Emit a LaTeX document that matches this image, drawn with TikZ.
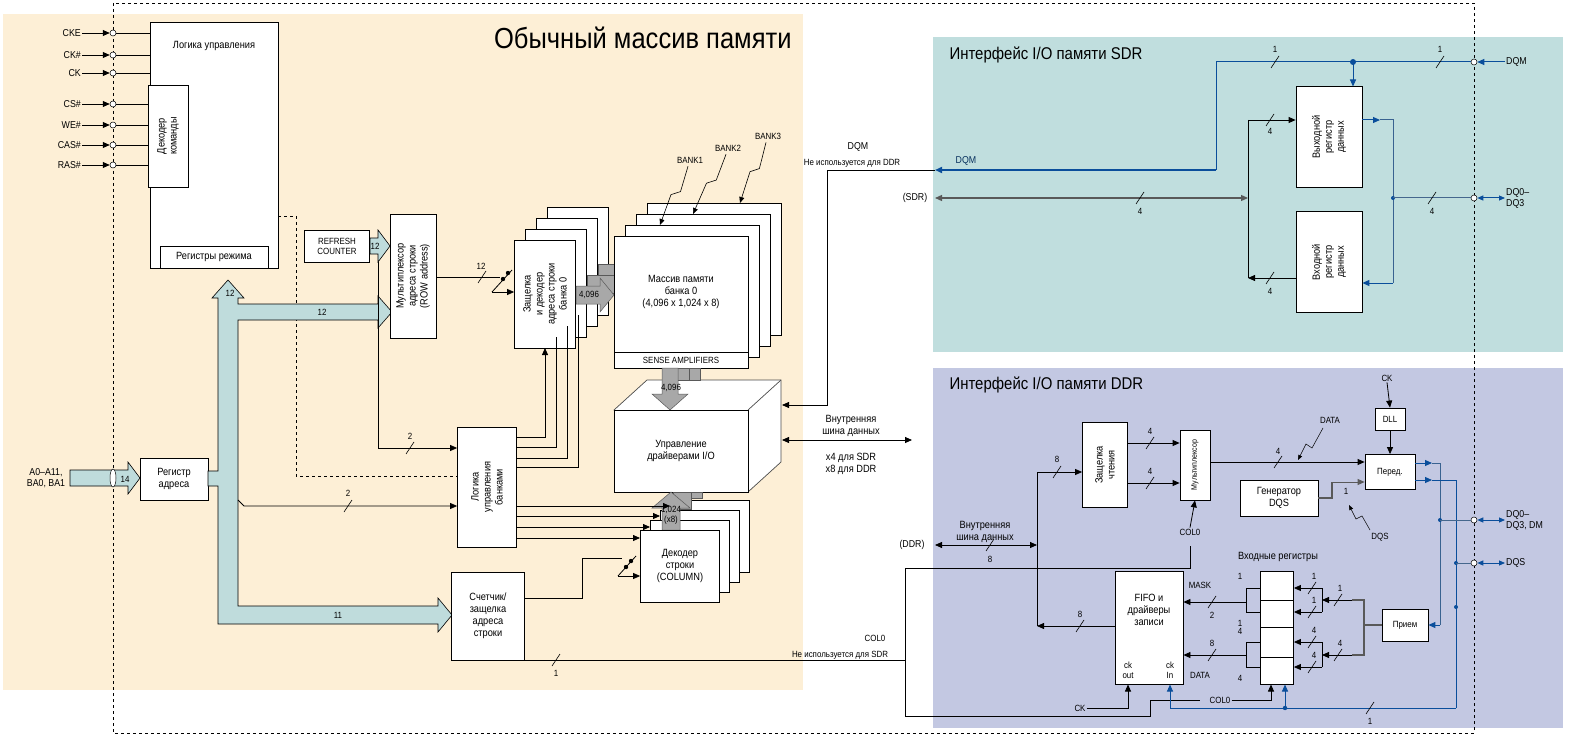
\documentclass[tikz,border=0pt]{standalone}
\usepackage{fontspec}
\setmainfont{Liberation Sans}[FakeStretch=0.88]
\usetikzlibrary{arrows.meta,calc}
\definecolor{tan}{HTML}{FDEFD6}
\definecolor{sdrbg}{HTML}{C0DEDE}
\definecolor{ddrbg}{HTML}{C3C8E2}
\definecolor{busc}{HTML}{BFDCDC}
\definecolor{dblue}{HTML}{0A4E9B}
\definecolor{gbus}{HTML}{A8A8A8}
\tikzset{
 box/.style={draw,fill=white,line width=0.8pt,inner sep=0pt},
 lbl/.style={font=\fontsize{10.5}{12}\selectfont,align=center,inner sep=1pt},
 sl/.style={font=\fontsize{9}{10}\selectfont,inner sep=1pt},
 ln/.style={line width=0.8pt},
 ar/.style={ln,-{Triangle[length=7pt,width=6pt]}},
 bl/.style={line width=1pt,draw=dblue},
 bar/.style={bl,-{Triangle[length=7pt,width=6pt]}},
 pin/.style={draw,fill=white,circle,inner sep=0pt,minimum size=6pt,line width=0.5pt},
 fat/.style={draw,fill=busc,line width=0.6pt},
 gfat/.style={draw=gray!70!black,fill=gbus,line width=0.5pt},
}
\newcommand\slm[1]{\draw[line width=0.6pt] ($#1+(-4,6)$)--($#1+(4,-6)$);}
\begin{document}
\begin{tikzpicture}[x=1pt,y=-1pt]
\useasboundingbox (0,0) rectangle (1590,746);
% backgrounds
\fill[tan] (3,14) rectangle (803,690);
\fill[sdrbg] (933,37) rectangle (1563,352);
\fill[ddrbg] (933,368) rectangle (1563,728);
\draw[dashed,line width=0.7pt] (113,3) rectangle (1474,733);
\node[font=\fontsize{29}{30}\selectfont,anchor=east] at (795,38) {Обычный массив памяти};
\node[font=\fontsize{17}{18}\selectfont,anchor=west] at (946,55) {Интерфейс I/O памяти SDR};
\node[font=\fontsize{17}{18}\selectfont,anchor=west] at (946,385) {Интерфейс I/O памяти DDR};

% control logic
\node[box,minimum width=128pt,minimum height=246pt] (ctl) at (214,145) {};
\node[lbl] at (214,46) {Логика управления};
\node[box,minimum width=40pt,minimum height=102pt] (cmd) at (168,136) {};
\node[lbl,rotate=90] at (168,136) {Декодер\\команды};
\node[box,minimum width=108pt,minimum height=22pt] (mode) at (214,257) {};
\node[lbl] at (214,257) {Регистры режима};
\foreach \n/\y/\e in {CKE/33/150,CK\#/55/150,CK/73/150,CS\#/104/148,WE\#/125/148,CAS\#/145/148,RAS\#/165/148}{
  \node[sl,anchor=east,font=\fontsize{10}{11}\selectfont] (s\y) at (82,\y) {\n};
  \node[pin] (p\y) at (113,\y) {};
  \draw[ar] (s\y.east) -- (p\y.west);
  \draw[ln] (p\y.east) -- (\e,\y);
}
% dashed from control
\draw[dashed,ln] (278,216) -- (296,216) -- (296,476) -- (458,476);

% address input
\node[lbl,font=\fontsize{10}{11}\selectfont] (ain) at (46,478) {A0–A11,\\BA0, BA1};
\draw[fat] (70,470) -- (128,470) -- (128,462) -- (140,478) -- (128,494) -- (128,486) -- (70,486) -- cycle;
\draw[fill=white,line width=0.5pt] (113,478) ellipse (3pt and 9pt);
\node[sl] at (125,479) {14};
\node[box,minimum width=68pt,minimum height=42pt] (areg) at (174,479) {};
\node[lbl] at (174,479) {Регистр\\адреса};
% main bus
\draw[fat] (208,471) -- (218,471) -- (218,298) -- (212,298) -- (228,280) -- (244,298) -- (238,298)
 -- (238,304) -- (378,304) -- (378,296) -- (392,312) -- (378,328) -- (378,320) -- (238,320)
 -- (238,606) -- (438,606) -- (438,598) -- (452,615) -- (438,632) -- (438,624) -- (218,624)
 -- (218,486) -- (208,486) -- cycle;
\node[sl] at (230,293) {12};
\node[sl] at (322,312) {12};
\node[sl] at (338,615) {11};

% refresh counter
\node[box,minimum width=65pt,minimum height=32pt] (ref) at (337,246) {};
\node[lbl,font=\fontsize{9}{10}\selectfont] at (337,246) {REFRESH\\COUNTER};
\draw[fat] (370,238) -- (378,238) -- (378,230) -- (390,246) -- (378,262) -- (378,254) -- (370,254) -- cycle;
\node[sl] at (375,246) {12};
% mux
\node[box,minimum width=46pt,minimum height=124pt] (mux) at (413,276) {};
\node[lbl,rotate=90] at (413,276) {Мультиплексор\\адреса строки\\(ROW address)};

% row latch stack
\foreach \i in {3,2,1}{\node[box,minimum width=61pt,minimum height=108pt] at (545+11*\i,294-11*\i) {};}
\node[box,minimum width=61pt,minimum height=108pt] (rl) at (545,294) {};
\node[lbl,rotate=90] at (545,294) {Защелка\\и декодер\\адреса строки\\банка 0};
% mux->latch switch
\draw[ln] (mux.east|-0,277) -- (500,277);
\node[sl] at (481,266) {12}; \slm{(482,277)}
\draw[ln] (492,292) -- (512,270);
\fill (503,279) circle (2.2pt); \fill (508,273) circle (2.2pt);
\draw[ar] (492,292) -- (rl.west|-0,292);

% gray arrows latch -> array
\foreach \d in {22,11}{\draw[gfat] (576+\d,286-\d) -- (603+\d,286-\d) -- (603+\d,304-\d) -- (576+\d,304-\d) -- cycle;}
\draw[gfat] (576,286) -- (600,286) -- (600,278) -- (614,295) -- (600,312) -- (600,304) -- (576,304) -- cycle;
\node[sl] at (589,295) {4,096};

% array stack
\foreach \i in {3,2,1}{\node[box,minimum width=134pt,minimum height=132pt] at (681+11*\i,302-11*\i) {};}
\node[box,minimum width=134pt,minimum height=132pt] (arr) at (681,302) {};
\draw[line width=0.8pt] (614,352) -- (748,352);
\node[lbl] at (681,292) {Массив памяти\\банка 0\\(4,096 x 1,024 x 8)};
\node[lbl,font=\fontsize{9}{10}\selectfont] at (681,360) {SENSE AMPLIFIERS};
% banks
\foreach \n/\lx/\ly/\tx/\ty in {BANK1/690/160/660/225,BANK2/728/148/693/214,BANK3/768/136/740/203}{
 \node[sl] (\n) at (\lx,\ly) {\n};
 \draw[ln,line width=0.6pt,-{Triangle[length=6pt,width=5pt]}] ($(\n.south)+(-2,2)$) -- ($(\n.south)!0.45!(\tx,\ty)+(4,0)$) -- ($(\n.south)!0.5!(\tx,\ty)+(-4,0)$) -- (\tx,\ty);
}

% I/O cube
\draw[line width=0.7pt,draw=gray!60!black,fill=white] (614,410) -- (647,380) -- (781,380) -- (781,462) -- (748,492) -- cycle;
\draw[line width=0.7pt,draw=gray!60!black] (748,410) -- (781,380);
\foreach \d in {22,11}{\draw[gfat] (662+\d,368) -- (678+\d,368) -- (678+\d,380) -- (662+\d,380) -- cycle;}
\draw[gfat] (662,368) -- (678,368) -- (678,394) -- (688,394) -- (670,410) -- (652,394) -- (662,394) -- cycle;
\node[sl] at (671,388) {4,096};
\node[box,minimum width=134pt,minimum height=82pt] (io) at (681,451) {};
\node[lbl] at (681,451) {Управление\\драйверами I/O};
% internal bus
\node[lbl] (ib) at (851,426) {Внутренняя\\шина данных};
\node[lbl] at (851,464) {x4 для SDR\\x8 для DDR};
\draw[ln,{Triangle[length=7pt,width=6pt]}-{Triangle[length=7pt,width=6pt]}] (782,440) -- (912,440);

% column decoder stack
\foreach \i in {3,2,1}{\node[box,minimum width=79pt,minimum height=72pt] at (680+10*\i,566-10*\i) {};}
\foreach \d in {22,11}{\draw[gfat] (662+\d,492) -- (680+\d,492) -- (680+\d,520-\d) -- (662+\d,520-\d) -- cycle;}
\draw[gfat] (662,530) -- (662,508) -- (652,508) -- (671,492) -- (690,508) -- (680,508) -- (680,530) -- cycle;
\node[box,minimum width=79pt,minimum height=72pt] (cd) at (680,566) {};
\node[sl,align=center] at (671,515) {1,024\\(x8)};
\node[lbl] at (680,566) {Декодер\\строки\\(COLUMN)};

% bank control logic
\node[box,minimum width=59pt,minimum height=120pt] (bcl) at (487,487) {};
\node[lbl,rotate=90] at (487,487) {Логика\\управления\\банками};
\draw[ar] (bcl.east|-0,437) -- (545,437) -- (545,348);
\draw[ln] (bcl.east|-0,447) -- (556,447) -- (556,337);
\draw[ln] (bcl.east|-0,458) -- (567,458) -- (567,326);
\draw[ln] (bcl.east|-0,467) -- (578,467) -- (578,315);
\foreach \y/\x in {506/670,516/660,527/650,538/640}{\draw[ar] (bcl.east|-0,\y) -- (\x,\y);}
% refresh -> bcl
\draw[ar] (378,262) -- (378,448) -- (bcl.west|-0,448);
\node[sl] at (410,436) {2}; \slm{(410,448)}
\draw[ar] (238,500) -- (244,506) -- (bcl.west|-0,506);
\node[sl] at (348,493) {2}; \slm{(348,506)}

% counter
\node[box,minimum width=73pt,minimum height=88pt] (cnt) at (488,616) {};
\node[lbl] at (488,616) {Счетчик/\\защелка\\адреса\\строки};
\draw[ln] (cnt.east|-0,598) -- (582,598) -- (582,558) -- (622,558);
\draw[ln] (618,576) -- (636,556);
\fill (626,567) circle (2.2pt); \fill (631,561) circle (2.2pt);
\draw[ar] (618,576) -- (cd.west|-0,576);
% COL0 line
\draw[ln] (cnt.east|-0,660) -- (905,660);
\node[sl] at (556,673) {1}; \slm{(556,660)}
\node[sl] at (875,638) {COL0};
\node[sl] at (840,655) {Не используется для SDR};

% ===== SDR =====
\node[pin] (pdqm) at (1474,62) {};
\node[sl,font=\fontsize{10}{11}\selectfont,anchor=west] (ldqm) at (1505,62) {DQM};
\draw[bar] (ldqm.west) -- (pdqm.east);
\draw[bl] (pdqm.west) -- (1216,62) -- (1216,170);
\draw[bar,line width=1.6pt] (1216,170) -- (935,170);
\node[sl] at (1275,49) {1}; \slm{(1275,62)}
\node[sl] at (1440,49) {1}; \slm{(1440,62)}
\fill[dblue] (1353,62) circle (3pt);
\node[box,minimum width=66pt,minimum height=101pt] (oreg) at (1329,137) {};
\node[lbl,rotate=90] at (1329,137) {Выходной\\регистр\\данных};
\node[box,minimum width=66pt,minimum height=101pt] (ireg) at (1329,262) {};
\node[lbl,rotate=90] at (1329,262) {Входной\\регистр\\данных};
\draw[bar] (1353,62) -- (1353,86.5);
\node[sl,font=\fontsize{10}{11}\selectfont,text=dblue!60!black] at (966,161) {DQM};
\node[sl,font=\fontsize{10}{11}\selectfont] at (858,147) {DQM};
\node[sl] at (852,163) {Не используется для DDR};
\draw[ar] (935,170) -- (827,170) -- (827,405) -- (782,405);
\node[sl,font=\fontsize{10}{11}\selectfont] at (915,198) {(SDR)};
\draw[line width=1.2pt,draw=gray!70!black,{Triangle[length=7pt,width=6pt]}-{Triangle[length=7pt,width=6pt]}] (935,198) -- (1248,198);
\node[sl] at (1140,211) {4}; \slm{(1140,198)}
\draw[ln] (1248,120) -- (1248,278);
\draw[ar] (1248,120) -- (oreg.west|-0,120);
\node[sl] at (1270,131) {4}; \slm{(1270,120)}
\draw[ar] (ireg.west|-0,278) -- (1248,278);
\node[sl] at (1270,291) {4}; \slm{(1270,278)}
\draw[bar] (oreg.east|-0,120) -- (1380,120);
\draw[bl,draw=dblue!60!gray] (1380,120) -- (1393,120) -- (1393,283);
\draw[bar] (1393,283) -- (ireg.east|-0,283);
\fill[dblue] (1393,198) circle (2pt);
\node[pin] (pdq) at (1474,198) {};
\draw[bl,draw=dblue!50!gray] (1393,198) -- (pdq.west);
\node[sl] at (1432,211) {4}; \slm{(1432,198)}
\node[sl,font=\fontsize{10}{11}\selectfont,align=left,anchor=west] (ldq) at (1505,198) {DQ0–\\DQ3};
\draw[bl,{Triangle[length=6pt,width=5pt]}-{Triangle[length=6pt,width=5pt]}] (pdq.east) -- (ldq.west);

% ===== DDR =====
\node[box,minimum width=45pt,minimum height=85pt] (rlat) at (1105,465) {};
\node[lbl,rotate=90] at (1105,465) {Защелка\\чтения};
\node[box,minimum width=30pt,minimum height=70pt] (dmux) at (1195,465) {};
\node[sl,rotate=90,font=\fontsize{8}{9}\selectfont] at (1195,465) {Мультиплексор};
\draw[ar] (rlat.east|-0,443) -- (dmux.west|-0,443);
\node[sl] at (1150,431) {4}; \slm{(1150,443)}
\draw[ar] (rlat.east|-0,483) -- (dmux.west|-0,483);
\node[sl] at (1150,471) {4}; \slm{(1150,483)}
\draw[ln] (1037,472) -- (1037,626);
\draw[ar] (1037,472) -- (rlat.west|-0,472);
\node[sl] at (1057,459) {8}; \slm{(1057,472)}
\node[lbl] at (985,532) {Внутренняя\\шина данных};
\node[sl,font=\fontsize{10}{11}\selectfont] at (912,545) {(DDR)};
\draw[ln,{Triangle[length=7pt,width=6pt]}-{Triangle[length=7pt,width=6pt]}] (935,545) -- (1037,545);
\node[sl] at (990,559) {8}; \slm{(990,545)}
% COL0 to mux
\draw[ln] (905,716) -- (905,568) -- (1190,568) -- (1190,546);
\node[sl] (c0a) at (1190,532) {COL0};
\draw[ar] (c0a.north) -- (dmux.south);
% transmit
\node[box,minimum width=50pt,minimum height=35pt] (tx) at (1390,472) {};
\node[sl] at (1390,472) {Перед.};
\node[box,minimum width=30pt,minimum height=22pt] (dll) at (1390,419) {};
\node[sl] at (1390,419) {DLL};
\node[sl] (ck1) at (1387,378) {CK};
\draw[ar] (ck1.south) -- (dll.north);
\draw[ar] (dll.south) -- (tx.north);
\draw[ar] (dmux.east|-0,462) -- (tx.west|-0,462);
\node[sl] at (1278,451) {4}; \slm{(1278,462)}
\node[sl] (data1) at (1330,420) {DATA};
\draw[line width=0.5pt,-{Triangle[length=5pt,width=4pt]}] (1323,428) -- (1312,448) -- (1306,444) -- (1298,460);
\node[box,minimum width=78pt,minimum height=36pt] (dqsg) at (1279,498) {};
\node[lbl] at (1279,498) {Генератор\\DQS};
\draw[line width=1.2pt,draw=gray!70!black] (dqsg.east|-0,498) -- (1332,498) -- (1332,482);
\draw[ar,draw=gray!70!black] (1332,482) -- (tx.west|-0,482);
\node[sl] at (1346,491) {1};
\node[sl] (dqs1) at (1380,537) {DQS};
\draw[line width=0.5pt,-{Triangle[length=5pt,width=4pt]}] (1370,530) -- (1362,516) -- (1356,519) -- (1349,505);
\draw[bar] (tx.east|-0,463) -- (1432,463);
\draw[bar] (tx.east|-0,480) -- (1432,480);
\draw[bl,draw=dblue!60!gray] (1432,463) -- (1440,463) -- (1440,625);
\draw[bl] (1432,480) -- (1456,480) -- (1456,708);
\node[box,minimum width=46pt,minimum height=32pt] (rx) at (1405,625) {};
\node[sl] at (1405,625) {Прием};
\draw[bar] (1440,625) -- (rx.east);
\node[pin] (pdq2) at (1474,520) {};
\node[pin] (pdqs) at (1474,563) {};
\fill[dblue] (1440,520) circle (2pt); \fill[dblue] (1456,563) circle (2pt); \fill[dblue] (1456,607) circle (2pt);
\draw[bl,draw=dblue!50!gray] (1440,520) -- (pdq2.west);
\draw[bl,draw=dblue!50!gray] (1456,563) -- (pdqs.west);
\node[sl,font=\fontsize{10}{11}\selectfont,align=left,anchor=west] (ldq2) at (1505,520) {DQ0–\\DQ3, DM};
\node[sl,font=\fontsize{10}{11}\selectfont,anchor=west] (ldqs) at (1505,563) {DQS};
\draw[bl,{Triangle[length=6pt,width=5pt]}-{Triangle[length=6pt,width=5pt]}] (pdq2.east) -- (ldq2.west);
\draw[bl,{Triangle[length=6pt,width=5pt]}-{Triangle[length=6pt,width=5pt]}] (pdqs.east) -- (ldqs.west);
% input regs
\node[lbl] at (1278,557) {Входные регистры};
\node[box,minimum width=33pt,minimum height=113pt] (inr) at (1277,628) {};
\foreach \y in {600,627,657}{\draw[line width=0.8pt] (1260,\y) -- (1294,\y);}
% FIFO
\node[box,minimum width=68pt,minimum height=113pt] (fifo) at (1149,628) {};
\node[lbl] at (1149,610) {FIFO и\\драйверы\\записи};
\node[sl,align=center] at (1128,670) {ck\\out};
\node[sl,align=center] at (1170,670) {ck\\In};
\draw[ar] (fifo.west|-0,626) -- (1037,626);
\node[sl] at (1080,614) {8}; \slm{(1080,626)}
% mask
\draw[ar] (1246,602) -- (fifo.east|-0,602);
\node[sl] at (1200,585) {MASK};
\node[sl] at (1212,615) {2}; \slm{(1212,602)}
\draw[ln] (1260,588) -- (1246,588) -- (1246,612) -- (1260,612);
\node[sl] at (1240,576) {1};
\node[sl] at (1240,623) {1};
% data
\draw[ar] (1246,655) -- (fifo.east|-0,655);
\node[sl] at (1200,675) {DATA};
\node[sl] at (1212,643) {8}; \slm{(1212,655)}
\draw[ln] (1260,642) -- (1246,642) -- (1246,667) -- (1260,667);
\node[sl] at (1240,631) {4};
\node[sl] at (1240,678) {4};
% right brackets
\foreach \y/\t in {588/1,612/1,642/4,667/4}{\draw[ar] (1322,\y) -- (inr.east|-0,\y); \node[sl] at (1314,\y-12) {\t}; \slm{(1312,\y)}}
\draw[ln] (1322,588) -- (1322,612); \draw[ln] (1322,642) -- (1322,667);
\draw[ar] (1352,600) -- (1322,600); \node[sl] at (1340,588) {1}; \slm{(1338,600)}
\draw[ar] (1352,655) -- (1322,655); \node[sl] at (1340,643) {4}; \slm{(1338,655)}
\draw[line width=1.2pt,draw=gray!70!black] (1352,600) -- (1364,600) -- (1364,655) -- (1352,655);
\draw[line width=1.2pt,draw=gray!70!black] (1364,625) -- (rx.west);
% bottom lines
\node[sl] (ck2) at (1080,708) {CK};
\draw[ar] (ck2.east) -- (1128,708) -- (1128,684.5);
\draw[ln] (905,716) -- (1150,716) -- (1150,700) -- (1200,700);
\node[sl] (c0b) at (1220,700) {COL0};
\draw[ar] (c0b.east) -- (1271,700) -- (1271,684.5);
\draw[bar] (1456,708) -- (1170,708) -- (1170,684.5);
\fill[dblue] (1285,708) circle (2.2pt);
\draw[bar] (1285,708) -- (1285,684.5);
\node[sl] at (1370,721) {1}; \slm{(1370,708)}
\end{tikzpicture}
\end{document}
